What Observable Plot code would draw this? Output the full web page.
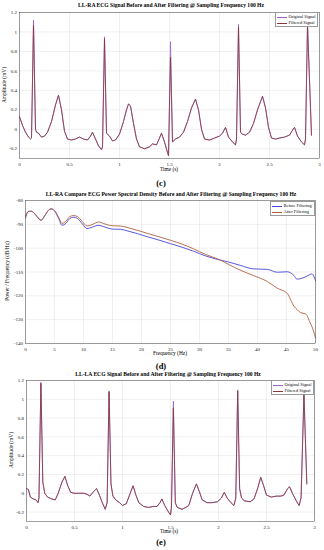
<!DOCTYPE html>
<html><head><meta charset="utf-8">
<script src="https://cdn.jsdelivr.net/npm/d3@7"></script>
<script src="https://cdn.jsdelivr.net/npm/@observablehq/plot@0.6"></script>
<style>
body{margin:0;background:#fff;}
#root{position:relative;width:324px;height:550px;overflow:hidden;font-family:"Liberation Serif","DejaVu Serif",serif;color:#000;}
.abs{position:absolute;white-space:nowrap;line-height:1;}
.title{font-weight:bold;font-size:5.6px;transform:translate(-50%,-50%);}
.xl{font-size:5.4px;transform:translate(-50%,-50%);}
.yl{font-size:5.4px;transform:translate(-50%,-50%) rotate(-90deg);}
.pl{font-weight:bold;font-size:8.5px;transform:translate(-50%,-50%);}
.legbox{position:absolute;border:0.5px solid #999;background:#fff;box-sizing:border-box;}
.legline{position:absolute;height:0;}
.legtxt{position:absolute;font-size:4.4px;transform:translateY(-50%);white-space:nowrap;line-height:1;}
.wrap{position:absolute;left:0;}
</style>
</head><body>
<div id="root"></div>
<script>
// ---------- Data ----------
// Panel (c): LL-RA ECG, time (s)
const timeC = [0.00,0.03,0.06,0.09,0.11,0.12,0.14,0.16,0.17,0.19,0.22,0.25,0.28,0.32,0.36,0.39,0.42,0.45,0.48,0.52,0.56,0.60,0.64,0.68,0.71,0.73,0.76,0.79,0.82,0.83,0.85,0.87,0.90,0.93,0.96,1.00,1.04,1.07,1.09,1.11,1.14,1.17,1.20,1.25,1.30,1.33,1.37,1.40,1.42,1.45,1.48,1.49,1.51,1.53,1.56,1.60,1.64,1.68,1.72,1.76,1.79,1.82,1.85,1.90,1.95,2.00,2.03,2.06,2.09,2.13,2.16,2.17,2.19,2.21,2.23,2.26,2.30,2.34,2.38,2.43,2.46,2.49,2.52,2.56,2.60,2.65,2.70,2.73,2.75,2.78,2.82,2.85,2.86,2.88,2.92];
const filteredC = [0.13,0.04,-0.03,-0.08,-0.10,-0.09,1.07,0.00,-0.03,-0.04,-0.08,-0.07,-0.03,0.08,0.25,0.35,0.20,-0.02,-0.10,-0.11,-0.10,-0.08,-0.10,-0.11,-0.07,-0.03,-0.10,-0.17,-0.21,-0.18,0.93,-0.04,-0.07,-0.12,-0.11,-0.05,0.08,0.20,0.26,0.24,0.06,-0.10,-0.18,-0.20,-0.18,-0.15,-0.16,-0.09,-0.04,-0.13,-0.24,-0.27,0.74,-0.13,-0.10,-0.08,-0.03,0.08,0.22,0.31,0.20,0.00,-0.10,-0.11,-0.09,-0.07,-0.04,0.02,-0.08,-0.13,-0.16,-0.10,1.05,-0.03,-0.05,-0.06,-0.03,0.06,0.20,0.34,0.22,0.02,-0.09,-0.10,-0.09,-0.08,-0.06,-0.01,0.02,-0.07,-0.13,-0.16,-0.10,1.07,-0.06];
const originalC = [0.13,0.04,-0.03,-0.08,-0.10,-0.09,1.12,0.00,-0.03,-0.04,-0.08,-0.07,-0.03,0.08,0.25,0.35,0.20,-0.02,-0.10,-0.11,-0.10,-0.08,-0.10,-0.11,-0.07,-0.03,-0.10,-0.17,-0.21,-0.18,0.95,-0.04,-0.07,-0.12,-0.11,-0.05,0.08,0.20,0.26,0.24,0.06,-0.10,-0.18,-0.20,-0.18,-0.15,-0.16,-0.09,-0.04,-0.13,-0.24,-0.27,0.90,-0.13,-0.10,-0.08,-0.03,0.08,0.22,0.31,0.20,0.00,-0.10,-0.11,-0.09,-0.07,-0.04,0.02,-0.08,-0.13,-0.16,-0.10,1.08,-0.03,-0.05,-0.06,-0.03,0.06,0.20,0.34,0.22,0.02,-0.09,-0.10,-0.09,-0.08,-0.06,-0.01,0.02,-0.07,-0.13,-0.16,-0.10,1.09,-0.06];

// Panel (d): PSD, frequency (Hz), dB/Hz
const freqD = [0,0.5,1.0,1.5,2.0,2.7,3.3,4.0,4.4,5.0,5.7,6.3,7.0,7.6,8.3,9.0,9.8,10.6,11.5,12.6,13.5,15,16.4,17.5,19.3,21,23,25,27,29,31,33.6,35,37,39.3,41.7,43.4,45.1,46.3,46.8,47.4,48.3,49.1,49.4,50];
const beforeD = [-86.5,-84.6,-84.5,-85.3,-86.8,-88.3,-86.5,-84.0,-83.5,-84.3,-87.5,-90.4,-89.5,-87.6,-87.0,-87.6,-89.8,-91.8,-91.2,-90.4,-91.0,-92.0,-92.1,-92.7,-93.9,-95.2,-96.6,-98.1,-99.6,-101.3,-103.2,-105.0,-105.8,-107.2,-108.7,-108.9,-110.1,-109.9,-111.5,-113.0,-112.8,-112.0,-111.0,-110.8,-113.6];
const afterD = [-87.5,-84.6,-84.5,-85.3,-86.8,-88.3,-86.4,-84.0,-83.5,-84.2,-87.0,-89.6,-88.6,-86.8,-86.3,-86.8,-88.8,-90.7,-90.1,-89.0,-89.7,-90.6,-90.7,-91.3,-92.5,-93.8,-95.2,-96.7,-98.3,-100.3,-102.6,-105.0,-106.8,-109.2,-111.5,-114.0,-116.8,-118.9,-124.4,-125.7,-127.0,-127.6,-131.4,-133.0,-137.6];

// Panel (e): LL-LA ECG
const timeE = [0.00,0.02,0.04,0.07,0.10,0.12,0.13,0.15,0.17,0.19,0.22,0.26,0.30,0.33,0.37,0.40,0.43,0.46,0.50,0.55,0.60,0.63,0.66,0.70,0.73,0.76,0.79,0.82,0.84,0.86,0.88,0.90,0.93,0.97,1.00,1.04,1.08,1.11,1.14,1.17,1.22,1.27,1.32,1.36,1.39,1.41,1.44,1.48,1.50,1.51,1.53,1.55,1.57,1.62,1.66,1.69,1.73,1.77,1.80,1.83,1.88,1.93,1.99,2.03,2.06,2.09,2.13,2.16,2.18,2.20,2.22,2.24,2.27,2.33,2.37,2.41,2.44,2.47,2.50,2.55,2.60,2.65,2.68,2.72,2.74,2.77,2.81,2.84,2.86,2.89,2.92];
const filteredE = [0.05,0.04,-0.04,-0.06,-0.07,-0.10,-0.05,1.17,0.12,0.00,-0.04,-0.06,-0.07,0.00,0.12,0.18,0.08,0.01,0.00,0.00,0.00,-0.01,-0.03,0.02,0.05,-0.02,-0.10,-0.17,-0.10,1.08,0.10,-0.03,-0.07,-0.10,-0.13,-0.11,0.00,0.08,-0.02,-0.10,-0.14,-0.15,-0.14,-0.14,-0.10,-0.06,-0.13,-0.20,-0.23,-0.15,0.91,-0.10,-0.15,-0.17,-0.15,-0.13,0.00,0.10,0.02,-0.07,-0.10,-0.10,-0.09,-0.05,0.01,-0.05,-0.10,-0.13,-0.05,1.09,0.05,-0.05,-0.08,-0.09,-0.06,0.06,0.17,0.08,-0.02,-0.04,-0.03,-0.03,-0.02,0.05,0.07,0.00,-0.08,-0.13,-0.05,1.05,0.10];
const originalE = [0.05,0.04,-0.04,-0.06,-0.07,-0.10,-0.05,1.18,0.12,0.00,-0.04,-0.06,-0.07,0.00,0.12,0.18,0.08,0.01,0.00,0.00,0.00,-0.01,-0.03,0.02,0.05,-0.02,-0.10,-0.17,-0.10,1.09,0.10,-0.03,-0.07,-0.10,-0.13,-0.11,0.00,0.08,-0.02,-0.10,-0.14,-0.15,-0.14,-0.14,-0.10,-0.06,-0.13,-0.20,-0.23,-0.15,0.98,-0.10,-0.15,-0.17,-0.15,-0.13,0.00,0.10,0.02,-0.07,-0.10,-0.10,-0.09,-0.05,0.01,-0.05,-0.10,-0.13,-0.05,1.10,0.05,-0.05,-0.08,-0.09,-0.06,0.06,0.17,0.08,-0.02,-0.04,-0.03,-0.03,-0.02,0.05,0.07,0.00,-0.08,-0.13,-0.05,1.06,0.10];

// Tick values
const timeTicks = [0,0.5,1,1.5,2,2.5,3];
const ampTicks = [-0.2,0,0.2,0.4,0.6,0.8,1,1.2];
const freqTicks = [0,5,10,15,20,25,30,35,40,45,50];
const psdTicks = [-140,-130,-120,-110,-100,-90,-80];

// Text
const titleC = "LL-RA ECG Signal Before and After Filtering @ Sampling Frequency 100 Hz";
const titleD = "LL-RA Compare ECG Power Spectral Density Before and After Filtering @ Sampling Frequency 100 Hz";
const titleE = "LL-LA ECG Signal Before and After Filtering @ Sampling Frequency 100 Hz";
const ecgSeries = ["Original Signal","Filtered Signal"];
const psdSeries = ["Before Filtering","After Filtering"];

// ---------- Style ----------
const FONT = '"Liberation Serif","DejaVu Serif",serif';
const COL_ORIG = "#9a62cc";
const COL_FILT = "#86363e";
const COL_BEFORE = "#4646d8";
const COL_AFTER = "#b0603e";
const root = document.getElementById("root");

function addText(cls, txt, x, y) {
  const d = document.createElement("div");
  d.className = "abs " + cls;
  d.textContent = txt;
  d.style.left = x + "px"; d.style.top = y + "px";
  root.appendChild(d);
}
function addLegend(x, y, w, h, items) {
  const b = document.createElement("div");
  b.className = "legbox";
  Object.assign(b.style, {left: x+"px", top: y+"px", width: w+"px", height: h+"px"});
  root.appendChild(b);
  items.forEach((it, i) => {
    const cy = y + h * (i === 0 ? 0.3 : 0.72);
    const l = document.createElement("div");
    l.className = "legline";
    Object.assign(l.style, {left: (x+2)+"px", top: cy+"px", width: "10px", borderTop: `0.9px solid ${it.color}`});
    root.appendChild(l);
    const t = document.createElement("div");
    t.className = "legtxt";
    t.textContent = it.label;
    Object.assign(t.style, {left: (x+13.5)+"px", top: cy+"px"});
    root.appendChild(t);
  });
}
const fmt = d => String(d);

function ecgMarks(times, orig, filt) {
  const data = times.map((t, i) => ({t, o: orig[i], f: filt[i]}));
  return [
    Plot.line(data, {x: "t", y: "o", stroke: COL_ORIG, strokeWidth: 0.8}),
    Plot.line(data, {x: "t", y: "f", stroke: COL_FILT, strokeWidth: 0.9, strokeOpacity: 0.9})
  ];
}

function simplePlot(cfg) {
  const svg = Plot.plot({
    width: 324, height: cfg.frameH + 20, marginLeft: cfg.mL, marginRight: cfg.mR, marginTop: 2, marginBottom: 18,
    x: {domain: cfg.xDomain, label: null},
    y: {domain: cfg.yDomain, label: null},
    style: {fontFamily: FONT, fontSize: "5px", color: "#1a1a1a", background: "transparent", overflow: "visible"},
    marks: [
      Plot.gridX(cfg.xTicks, {stroke: "#000", strokeOpacity: 0.12, strokeWidth: 0.5}),
      Plot.gridY(cfg.yTicks, {stroke: "#000", strokeOpacity: 0.12, strokeWidth: 0.5}),
      Plot.axisX(cfg.xTicks, {tickSize: 0, tickPadding: 3.5, tickFormat: fmt, label: null}),
      Plot.axisY(cfg.yTicks, {tickSize: 0, tickPadding: 2.5, tickFormat: fmt, label: null}),
      ...cfg.marks,
      Plot.frame({stroke: "#444", strokeWidth: 0.5})
    ]
  });
  const w = document.createElement("div");
  w.className = "wrap";
  w.style.top = (cfg.frameTop - 2) + "px";
  w.appendChild(svg);
  root.appendChild(w);
}

// Panel (c)
simplePlot({frameTop: 12, frameH: 146, mL: 19, mR: 5, xDomain: [0,3], yDomain: [-0.3,1.2],
  xTicks: timeTicks, yTicks: ampTicks, marks: ecgMarks(timeC, originalC, filteredC)});
addText("title", titleC, 171, 6);
addText("xl", "Time (s)", 169, 170);
addText("yl", "Amplitude (mV)", 5, 85);
addText("pl", "(c)", 161, 183);
addLegend(275, 12, 43, 15, [{label: ecgSeries[0], color: COL_ORIG}, {label: ecgSeries[1], color: COL_FILT}]);

// Panel (d)
const psdData = freqD.map((f, i) => ({f, b: beforeD[i], a: afterD[i]}));
simplePlot({frameTop: 200, frameH: 143, mL: 25, mR: 9, xDomain: [0,50], yDomain: [-140,-80],
  xTicks: freqTicks, yTicks: psdTicks, marks: [
    Plot.line(psdData, {x: "f", y: "b", stroke: COL_BEFORE, strokeWidth: 0.9, curve: "monotone-x"}),
    Plot.line(psdData, {x: "f", y: "a", stroke: COL_AFTER, strokeWidth: 0.9, curve: "monotone-x"})
  ]});
addText("title", titleD, 171, 195);
addText("xl", "Frequency (Hz)", 170, 354);
addText("yl", "Power / Frequency (dB/Hz)", 8, 271);
addText("pl", "(d)", 161, 366);
addLegend(270, 201, 45, 15, [{label: psdSeries[0], color: COL_BEFORE}, {label: psdSeries[1], color: COL_AFTER}]);

// Panel (e)
simplePlot({frameTop: 380, frameH: 141, mL: 26, mR: 10, xDomain: [0,3], yDomain: [-0.3,1.2],
  xTicks: timeTicks, yTicks: ampTicks, marks: ecgMarks(timeE, originalE, filteredE)});
addText("title", titleE, 168, 375);
addText("xl", "Time (s)", 169, 532);
addText("yl", "Amplitude (mV)", 12, 450);
addText("pl", "(e)", 161, 542);
addLegend(271, 380, 43, 15, [{label: ecgSeries[0], color: COL_ORIG}, {label: ecgSeries[1], color: COL_FILT}]);
</script>
</body></html>
